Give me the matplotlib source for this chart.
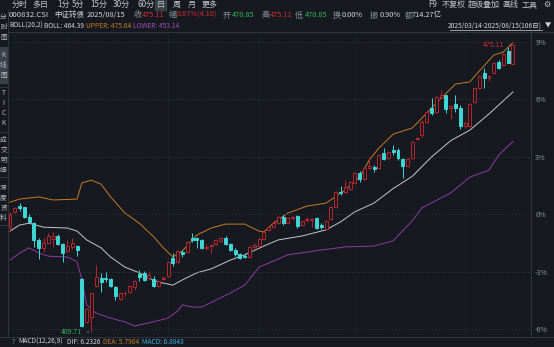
import matplotlib.pyplot as plt
from matplotlib.lines import Line2D
from matplotlib.patches import Rectangle

plt.rcParams['font.family'] = ['Noto Sans CJK SC', 'DejaVu Sans']

# 日K 数据 (2025/03/14 - 2025/08/15, 106 日)
opens = [433.6, 437.1, 438.4, 438.2, 435.9, 434.5, 430.7, 428.9, 430.0, 430.9,
         431.6, 429.8, 428.2, 429.1, 429.3, 421.8, 412.0, 413.1, 420.2, 422.0,
         422.0, 421.8, 420.0, 417.2, 418.5, 418.8, 420.0, 422.9, 423.2, 422.0,
         421.8, 420.2, 421.8, 422.5, 426.6, 425.7, 428.0, 428.0, 431.1, 431.1,
         430.7, 428.9, 429.3, 429.8, 430.4, 431.1, 429.8, 428.4, 427.5, 427.0,
         426.8, 429.1, 429.3, 430.9, 433.0, 433.6, 434.5, 435.9, 434.5, 435.8,
         436.1, 434.1, 435.3, 435.3, 435.7, 434.1, 433.2, 435.5, 438.2, 441.6,
         441.6, 442.3, 443.7, 445.9, 444.6, 447.1, 447.3, 447.1, 450.5, 449.4,
         451.2, 451.2, 449.1, 447.5, 449.4, 453.7, 454.6, 457.6, 460.7, 459.8,
         463.3, 463.7, 460.7, 461.6, 460.7, 456.6, 456.6, 462.1, 465.3, 468.7,
         467.6, 468.7, 471.2, 470.5, 473.7, 470.85]
highs = [437.1, 438.2, 439.1, 438.3, 436.6, 434.8, 431.1, 431.1, 432.3, 432.5,
         432.0, 430.0, 430.7, 431.1, 429.5, 422.0, 415.2, 418.6, 425.0, 423.2,
         423.4, 422.0, 420.1, 418.8, 419.1, 420.4, 421.6, 423.8, 423.6, 423.4,
         422.5, 421.6, 422.5, 425.9, 427.7, 428.4, 428.4, 430.4, 432.3, 431.4,
         430.9, 429.8, 429.8, 430.9, 431.4, 431.6, 430.0, 428.9, 427.7, 427.7,
         429.3, 430.0, 431.1, 432.7, 433.9, 434.8, 436.1, 436.4, 435.9, 436.1,
         436.4, 435.2, 435.9, 435.7, 435.9, 434.5, 435.2, 438.4, 441.8, 443.0,
         444.3, 444.1, 446.2, 446.4, 447.3, 449.6, 447.8, 450.3, 451.6, 451.0,
         452.3, 451.6, 449.4, 449.4, 453.2, 454.1, 458.0, 460.1, 463.0, 463.5,
         464.8, 463.7, 461.4, 463.7, 461.4, 457.8, 461.9, 465.5, 468.3, 469.9,
         468.3, 471.2, 471.7, 473.3, 474.6, 475.11]
lows = [432.5, 436.8, 437.3, 435.7, 434.5, 429.1, 426.3, 428.0, 429.9, 429.1,
        429.5, 425.7, 428.0, 428.6, 427.0, 410.9, 411.8, 409.71, 420.0, 418.8,
        421.1, 420.0, 417.0, 417.0, 417.9, 418.6, 419.3, 421.3, 421.3, 421.6,
        420.0, 420.0, 421.6, 422.3, 424.8, 425.4, 426.8, 427.7, 430.2, 428.9,
        428.6, 428.4, 427.7, 429.5, 430.2, 429.5, 428.2, 427.0, 426.3, 426.6,
        426.6, 428.6, 429.1, 430.7, 432.7, 433.4, 434.3, 434.1, 434.3, 435.2,
        433.4, 433.9, 434.8, 433.6, 433.2, 433.2, 433.0, 435.2, 438.0, 440.9,
        441.4, 442.1, 443.4, 443.9, 444.3, 446.9, 446.2, 446.9, 448.9, 449.1,
        450.0, 448.9, 444.8, 447.3, 449.1, 453.5, 454.1, 457.3, 459.2, 459.6,
        463.0, 459.6, 458.2, 459.8, 456.0, 456.2, 456.4, 461.9, 465.1, 465.3,
        466.9, 468.5, 469.6, 470.3, 471.0, 470.85]
closes = [436.6, 438.0, 438.0, 435.9, 434.8, 430.7, 428.9, 430.0, 431.6, 431.6,
          429.8, 427.7, 429.3, 430.0, 428.4, 411.1, 415.0, 418.6, 422.3, 421.1,
          421.8, 420.2, 417.9, 418.6, 418.6, 420.2, 421.3, 422.3, 421.6, 422.7,
          420.2, 421.3, 422.0, 425.7, 425.4, 428.2, 427.5, 430.2, 430.7, 430.7,
          428.9, 429.1, 429.5, 430.7, 431.1, 429.8, 428.4, 427.5, 426.6, 426.8,
          429.1, 429.5, 430.9, 432.5, 433.6, 434.5, 435.9, 434.5, 435.7, 435.9,
          433.9, 435.0, 435.5, 435.5, 433.4, 433.6, 435.0, 438.2, 441.6, 441.4,
          442.8, 443.9, 445.9, 444.6, 447.1, 447.5, 446.9, 450.0, 449.1, 450.7,
          450.7, 449.4, 447.5, 449.1, 453.0, 453.9, 457.6, 459.8, 459.6, 463.3,
          463.7, 460.5, 461.2, 460.7, 456.6, 457.3, 461.7, 465.3, 468.0, 467.6,
          468.0, 471.0, 469.9, 473.0, 471.0, 475.11]

# BOLL(20,2) 三条线, 按图上读点
upper_idx = [0, 2, 6, 9, 14, 15, 17, 19, 21, 24, 27, 30, 32, 34, 36, 39, 42, 45, 49,
             52, 53, 55, 58, 62, 66, 70, 73, 75, 77, 80, 84, 87, 90, 93, 96, 98,
             101, 103, 105]
upper = [439.3, 440.0, 440.5, 439.8, 440.0, 443.7, 444.3, 443.4, 440.5, 436.8,
         434.5, 431.4, 428.9, 426.8, 428.2, 431.8, 433.4, 434.3, 434.3, 432.7,
         432.5, 434.5, 436.8, 438.4, 439.1, 442.1, 445.0, 448.9, 451.6, 454.8,
         456.2, 459.6, 463.0, 466.2, 466.7, 469.2, 472.8, 473.5, 475.64]
mid_idx = [0, 2, 4, 7, 12, 14, 16, 19, 21, 24, 27, 29, 31, 34, 36, 39, 42, 46, 49,
           53, 56, 61, 66, 69, 72, 76, 80, 84, 88, 92, 96, 100, 105]
mid = [432.7, 434.1, 434.5, 433.6, 433.4, 432.7, 430.7, 428.9, 426.8, 424.5,
       423.2, 422.0, 421.1, 420.4, 421.6, 423.2, 424.1, 426.1, 427.3, 429.3,
       430.7, 431.6, 433.0, 434.8, 437.1, 439.1, 442.4, 445.2, 449.6, 453.3,
       455.7, 459.4, 464.39]
lower_idx = [0, 2, 4, 6, 8, 12, 14, 15, 16, 18, 21, 24, 26, 29, 33, 35, 36, 38, 40,
             43, 46, 49, 52, 58, 65, 70, 76, 80, 84, 86, 92, 96, 100, 102, 105]
lower = [426.1, 427.7, 428.9, 427.7, 427.0, 426.8, 425.7, 421.6, 415.9, 414.0,
         412.9, 412.0, 411.1, 411.8, 412.9, 414.5, 415.9, 415.4, 415.4, 417.0,
         418.6, 420.4, 424.5, 427.3, 428.4, 429.1, 429.3, 430.5, 435.1, 438.0,
         441.4, 445.0, 446.6, 450.0, 453.14]

month_starts = [12, 33, 52, 72, 95]
pct_ticks = [-6, -3, 0, 3, 6, 9]

BG = '#161a20'
GRID = '#2b2f37'
LINE = '#363a42'
RED = '#d22b30'
CANDLE_RED = '#b8262b'
CYAN = '#3fd6d6'
GREEN = '#2eb35c'
ORANGE = '#c67a25'
PURPLE = '#8e3aa2'
WHITE = '#d2d5da'
GRAY = '#8c9099'

W, H = 554, 347
fig = plt.figure(figsize=(W / 100, H / 100), dpi=100)
fig.patch.set_facecolor(BG)


def fx(x):
    return x / W


def fy(y):
    return 1 - y / H


def ftext(x, y, s, color=WHITE, size=5.2, ha='left', **kw):
    fig.text(fx(x), fy(y), s, color=color, fontsize=size, ha=ha, va='center', **kw)


def fline(x0, y0, x1, y1, color=LINE, lw=0.6):
    fig.add_artist(Line2D([fx(x0), fx(x1)], [fy(y0), fy(y1)], color=color, lw=lw,
                          transform=fig.transFigure))


# 主图
ax = fig.add_axes([fx(8), fy(336), fx(531) - fx(8), fy(32) - fy(336)])
ax.set_facecolor(BG)
ax.set_xlim(-0.42, 108.77)
ax.set_ylim(408.81, 478.06)

base = closes[0]
ax.yaxis.tick_right()
ax.set_yticks([base * (1 + p / 100) for p in pct_ticks])
ax.set_yticklabels([f'{p}%' for p in pct_ticks])
ax.tick_params(axis='y', length=0, pad=3, labelsize=5.2, labelcolor=GRAY)
ax.set_xticks([])
ax.grid(axis='y', color=GRID, lw=0.6, linestyle=(0, (2, 2)))
for m in month_starts:
    ax.axvline(m, color=GRID, lw=0.6, linestyle=(0, (1, 2)), zorder=0)
for s in ['top', 'left', 'bottom']:
    ax.spines[s].set_visible(False)
ax.spines['right'].set_color(LINE)
ax.spines['right'].set_linewidth(0.6)

# K线
for i in range(len(closes)):
    o, h, l, c = opens[i], highs[i], lows[i], closes[i]
    up = c >= o
    col = CANDLE_RED if up else CYAN
    ax.vlines(i, l, h, color=col, lw=0.7, zorder=2)
    ax.bar(i, max(abs(c - o), 0.15), 0.62, min(o, c), facecolor=BG if up else CYAN,
           edgecolor=col, lw=0.7, zorder=3)

ax.plot(upper_idx, upper, color=ORANGE, lw=0.7, zorder=1)
ax.plot(mid_idx, mid, color='#c4c6ca', lw=0.7, zorder=1)
ax.plot(lower_idx, lower, color=PURPLE, lw=0.7, zorder=1)

ax.annotate(f'{highs[-1]:.2f}', xy=(len(closes) - 1, highs[-1]), xytext=(103.2, highs[-1]),
            ha='right', va='center', color=RED, fontsize=5,
            arrowprops=dict(arrowstyle='-', color='#a0a4ab', lw=0.6))
ax.annotate(f'{min(lows):.2f}', xy=(lows.index(min(lows)), min(lows)), xytext=(15.0, min(lows)),
            ha='right', va='center', color=GREEN, fontsize=5,
            arrowprops=dict(arrowstyle='-', color='#a0a4ab', lw=0.6))

# 顶部工具栏
fig.add_artist(Rectangle((fx(155), fy(10)), fx(11), fy(0) - fy(10), color='#3b4049',
                         transform=fig.transFigure))
for x, s in [(12, '分时'), (32, '多日'), (57, '1分'), (72, '5分'), (90, '15分'), (113, '30分'),
             (137, '60分'), (157, '日'), (173, '周'), (188, '月'), (202, '更多')]:
    ftext(x, 4.5, s, color='#c2c5cb', size=5.8)
for x, s in [(428, 'F9'), (442, '不复权'), (468, '超级叠加'), (502, '画线'), (522, '工具'),
             (543, '⚙')]:
    ftext(x, 4.5, s, color='#c2c5cb', size=5.8)

# 信息行
ftext(9, 15, '000832.CSI', color=WHITE, size=5.6)
ftext(54, 15, '中证转债', color=WHITE, size=5.4)
info = [(87, '2025/08/15', WHITE), (133, '收', GRAY),
        (142, '475.11', RED), (168, '幅', GRAY), (177, '0.87%(4.10)', RED), (223, '开', GRAY),
        (232, '470.85', GREEN), (262, '高', GRAY), (270, '475.11', RED), (295, '低', GRAY),
        (305, '470.85', GREEN), (333, '换', GRAY), (342, '0.00%', WHITE), (370, '振', GRAY),
        (380, '0.90%', WHITE), (405, '额', GRAY), (412, '714.27亿', WHITE)]
for x, s, c in info:
    ftext(x, 15, s, color=c, size=5.8 if len(s) == 1 else 5.3)

ftext(9, 26, 'BOLL(20,2)', color=WHITE, size=4.8)
ftext(44, 26, 'BOLL: 464.39', color=WHITE, size=4.8)
ftext(86, 26, 'UPPER: 475.64', color=ORANGE, size=4.8)
ftext(133, 26, 'LOWER: 453.14', color='#a64abb', size=4.8)
ftext(542, 26, '2025/03/14-2025/08/15(106日)', color=WHITE, ha='right', size=4.8)
fline(450, 29.5, 542, 29.5, color=WHITE, lw=0.5)
ftext(545, 25.5, '▼', color=WHITE, size=4.5)

# 左侧竖排标签
fig.add_artist(Rectangle((fx(0), fy(83)), fx(7), fy(47) - fy(83), color='#3b4049',
                         transform=fig.transFigure))
for y0, word in [(17, '分时图'), (55, 'K线图'), (93, 'TICK'), (140, '成交明细'), (188, '深度资料')]:
    for k, ch in enumerate(word):
        ftext(3.5, y0 + k * 10, ch, color='#b9bcc2', size=4.8, ha='center')
for y in [87, 132, 177, 225]:
    fline(0, y, 7.5, y)
fline(7.5, 10, 7.5, 337)

# 分隔线
fline(8, 31.5, 554, 31.5)
fline(0, 337, 554, 337)

# 底部 MACD 行
ftext(12, 342, '?', color=GRAY, size=4.8)
ftext(18, 342, 'MACD(12,26,9)', color=WHITE, size=4.8)
ftext(67, 342, 'DIF: 6.2326', color=WHITE, size=4.8)
ftext(103, 342, 'DEA: 5.7904', color=ORANGE, size=4.8)
ftext(142, 342, 'MACD: 0.8843', color='#3ab4e6', size=4.8)

fig.savefig('out.png', dpi=100, facecolor=BG)
